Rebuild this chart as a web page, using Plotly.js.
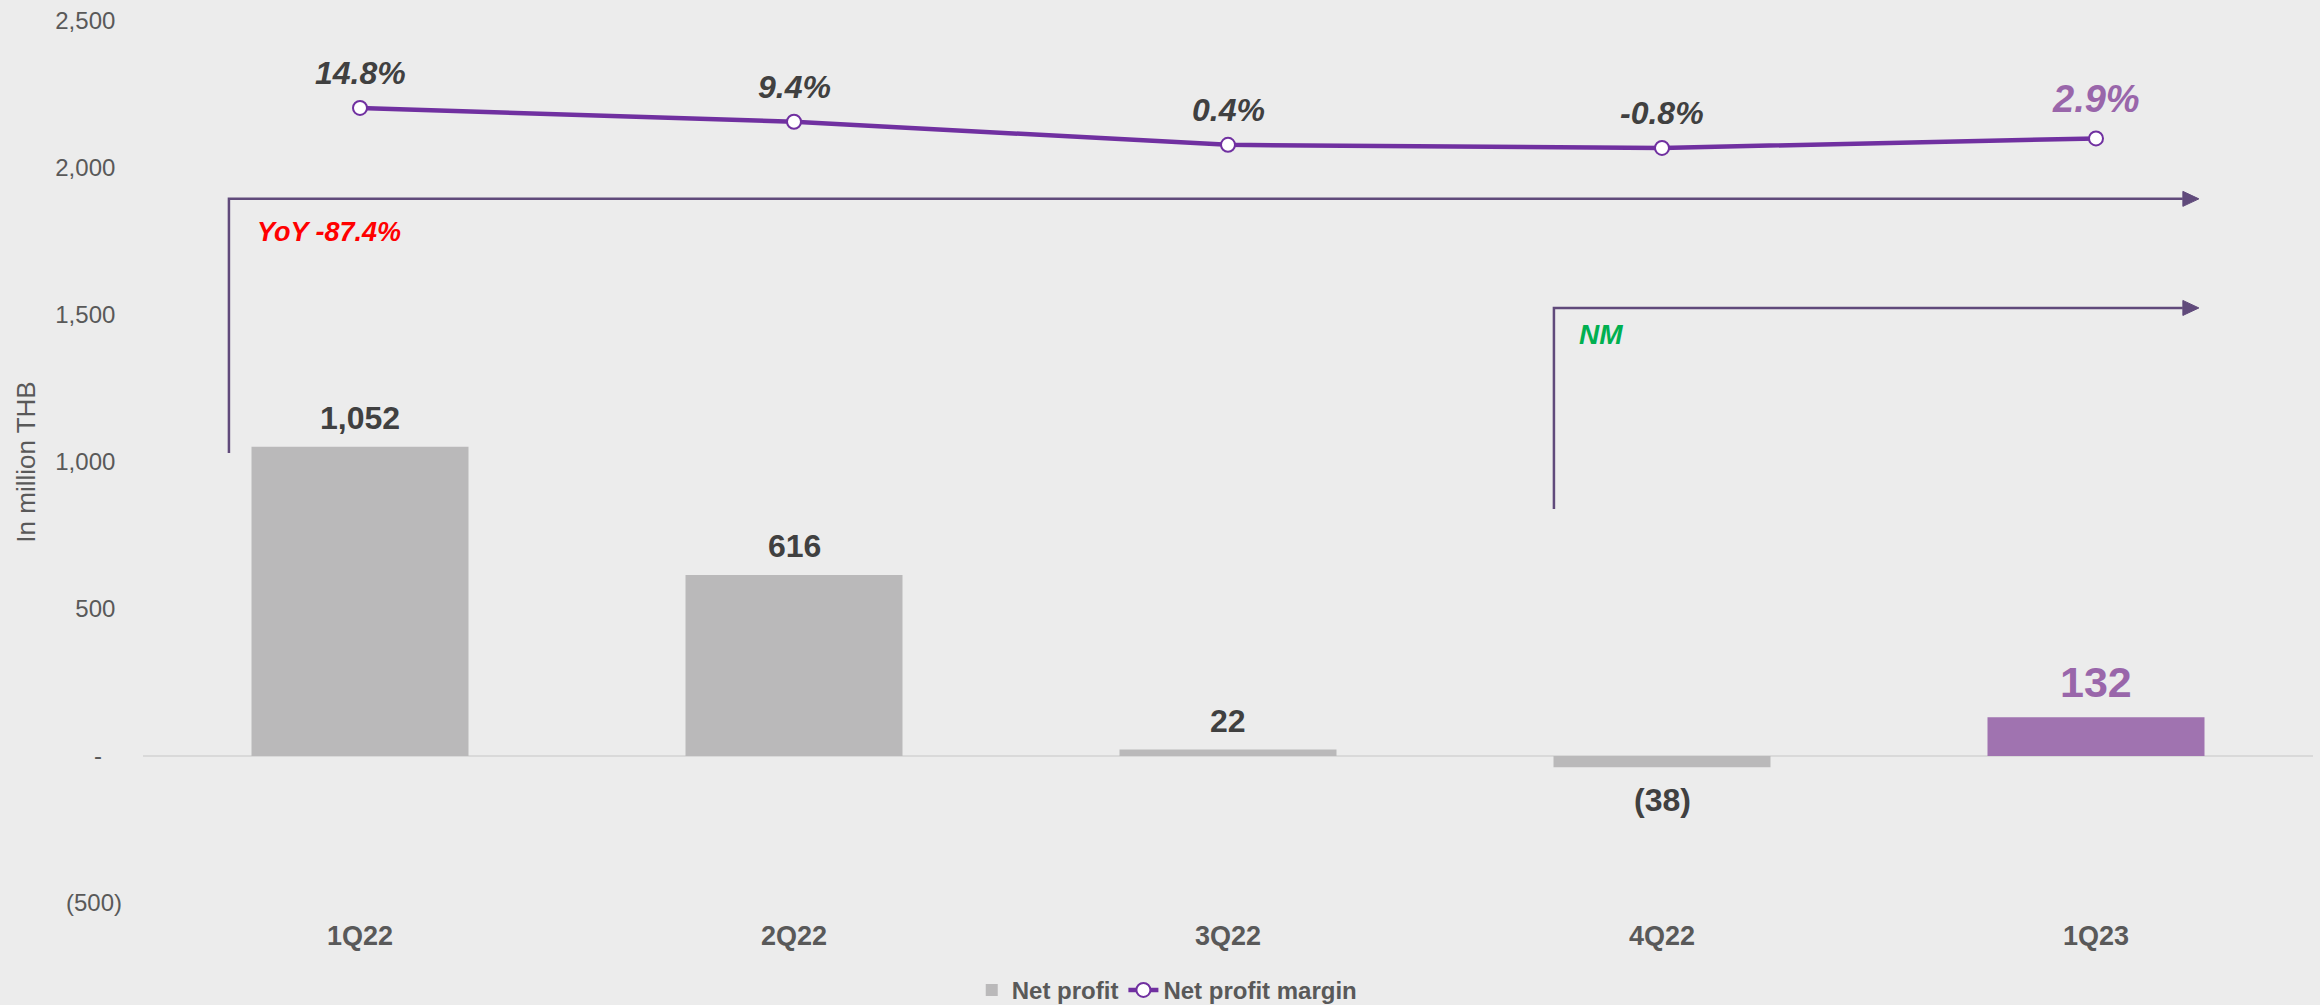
<!DOCTYPE html>
<html>
<head>
<meta charset="utf-8">
<script src="https://cdn.plot.ly/plotly-3.0.1.min.js"></script>
<style>
  html, body { margin: 0; padding: 0; background: #ECECEC; }
  #chart { width: 2320px; height: 1005px; }
</style>
</head>
<body>
<div id="chart"></div>
<script>
// ---- data ----
const categories = ['1Q22', '2Q22', '3Q22', '4Q22', '1Q23'];
const netProfit = [1052, 616, 22, -38, 132];
const netProfitMargin = [14.8, 9.4, 0.4, -0.8, 2.9];
const profitLabels = ['1,052', '616', '22', '(38)', '132'];
const marginLabels = ['14.8%', '9.4%', '0.4%', '-0.8%', '2.9%'];
const yTickVals = [-500, 0, 500, 1000, 1500, 2000, 2500];
const yTickText = ['(500)', '-', '500', '1,000', '1,500', '2,000', '2,500'];
const yoyText = 'YoY -87.4%';
const nmText = 'NM';

// ---- styling ----
const FONT = 'Arial, "Liberation Sans", sans-serif';
const GRAY_BAR = '#BAB9BA';
const PURPLE_BAR = '#A073B0';
const LINE_PURPLE = '#7030A0';
const HILITE = '#9966AA';
const DARK = '#404040';
const AXIS_TXT = '#595959';
const CONN = '#604A7B';
const last = categories.length - 1;

const barColors = categories.map((c, i) => i === last ? PURPLE_BAR : GRAY_BAR);

const barTrace = {
  type: 'bar',
  name: 'Net profit',
  legendgroup: 'np',
  x: categories,
  y: netProfit,
  marker: { color: barColors },
  hoverinfo: 'skip'
};

const lineTrace = {
  type: 'scatter',
  mode: 'lines+markers',
  name: 'Net profit margin',
  legendgroup: 'npm',
  x: categories,
  y: netProfitMargin,
  yaxis: 'y2',
  line: { color: LINE_PURPLE, width: 4.5 },
  marker: { size: 14, color: '#FFFFFF', line: { color: LINE_PURPLE, width: 2 } },
  hoverinfo: 'skip'
};

const annotations = [];
categories.forEach((c, i) => {
  const isLast = i === last;
  const v = netProfit[i];
  annotations.push({
    x: c, y: v, xref: 'x', yref: 'y',
    text: profitLabels[i], showarrow: false,
    yanchor: 'middle',
    yshift: v >= 0 ? (isLast ? 35 : 29) : -33,
    font: { family: FONT, size: isLast ? 43 : 32, weight: 'bold', color: isLast ? HILITE : DARK }
  });
  annotations.push({
    x: c, y: netProfitMargin[i], xref: 'x', yref: 'y2',
    text: '<i>' + marginLabels[i] + '</i>', showarrow: false,
    yanchor: 'middle',
    yshift: isLast ? 39 : 35,
    font: { family: FONT, size: isLast ? 38 : 32, weight: 'bold', color: isLast ? HILITE : DARK }
  });
});

// connector texts
annotations.push({
  x: -0.242, y: 1782, xref: 'x', yref: 'y', xanchor: 'left', yanchor: 'middle',
  text: '<i>' + yoyText + '</i>', showarrow: false,
  font: { family: FONT, size: 27, weight: 'bold', color: '#FF0000' }
});
annotations.push({
  x: 2.804, y: 1435, xref: 'x', yref: 'y', xanchor: 'left', yanchor: 'middle',
  text: '<i>' + nmText + '</i>', showarrow: false,
  font: { family: '"Liberation Sans Narrow", Arial, "Liberation Sans", sans-serif', size: 28, weight: 'bold', color: '#00B050' }
});

// connector shapes (decoration)
const connLine = { color: CONN, width: 2.5 };
const shapes = [
  { type: 'path', xref: 'x', yref: 'y', path: 'M -0.302,1031 L -0.302,1895 L 4.20,1895', line: connLine },
  { type: 'path', xref: 'x', yref: 'y', xsizemode: 'pixel', ysizemode: 'pixel',
    xanchor: 4.237, yanchor: 1895, path: 'M -16,-7.5 L 0,0 L -16,7.5 Z',
    fillcolor: CONN, line: { color: CONN, width: 1 } },
  { type: 'path', xref: 'x', yref: 'y', path: 'M 2.751,840 L 2.751,1524 L 4.20,1524', line: connLine },
  { type: 'path', xref: 'x', yref: 'y', xsizemode: 'pixel', ysizemode: 'pixel',
    xanchor: 4.237, yanchor: 1524, path: 'M -16,-7.5 L 0,0 L -16,7.5 Z',
    fillcolor: CONN, line: { color: CONN, width: 1 } }
];

const layout = {
  width: 2320,
  height: 1005,
  paper_bgcolor: '#ECECEC',
  plot_bgcolor: '#ECECEC',
  margin: { l: 143, r: 7, t: 21, b: 102, autoexpand: false },
  bargap: 0.5,
  showlegend: true,
  legend: {
    orientation: 'h', x: 0.472, xanchor: 'center', y: -0.099, yanchor: 'middle',
    font: { family: FONT, size: 24, weight: 'bold', color: AXIS_TXT },
    bgcolor: 'rgba(0,0,0,0)', traceorder: 'grouped', tracegroupgap: 24
  },
  xaxis: {
    type: 'category',
    showgrid: false, showline: false, zeroline: false, ticks: '',
    tickfont: { family: FONT, size: 27, weight: 'bold', color: AXIS_TXT },
    ticklabelstandoff: 14
  },
  yaxis: {
    range: [-500, 2500],
    tickvals: yTickVals,
    ticktext: yTickText.map((t, i) => t.startsWith('(') ? t : (t === '-' ? t + '\u00A0\u00A0\u00A0' : t + '\u00A0')),
    showgrid: false, showline: false, ticks: '',
    zeroline: true, zerolinecolor: '#D9D9D9', zerolinewidth: 2,
    tickfont: { family: FONT, size: 24, color: AXIS_TXT },
    ticklabelstandoff: 20,
    title: { text: 'In million THB', font: { family: FONT, size: 26, color: AXIS_TXT }, standoff: 12 }
  },
  yaxis2: {
    overlaying: 'y', side: 'right', range: [-295.3, 48.7], visible: false
  },
  annotations: annotations,
  shapes: shapes
};

Plotly.newPlot('chart', [barTrace, lineTrace], layout, { displayModeBar: false, staticPlot: true });
</script>
</body>
</html>
